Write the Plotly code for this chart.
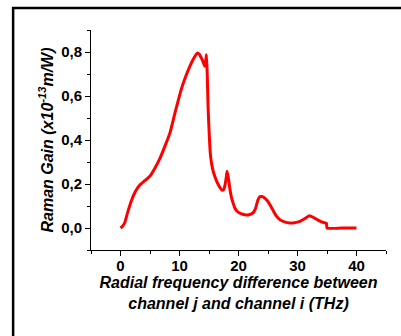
import plotly.graph_objects as go

freq_thz = [0, 0.35, 0.73, 1.2, 1.86, 2.5, 3.27, 4.1, 4.97, 5.8, 6.66, 7.5, 8.36, 9.3, 10.3, 11.0, 11.75, 12.4, 12.99, 13.35, 13.7, 14.0, 14.3, 14.45, 14.57, 14.7, 14.85, 15.05, 15.25, 15.6, 15.98, 16.6, 17.2, 17.5, 17.67, 17.9, 18.07, 18.3, 18.5, 18.8, 19.1, 19.4, 19.77, 20.4, 21.07, 21.8, 22.5, 22.9, 23.3, 23.6, 24.0, 24.5, 25.0, 25.5, 25.9, 26.4, 27.0, 27.8, 28.7, 29.5, 30.4, 31.2, 32.0, 32.9, 33.8, 34.4, 34.9, 35.0, 37.5, 40.0]
raman_gain = [0, 0.008, 0.025, 0.07, 0.125, 0.165, 0.195, 0.215, 0.235, 0.27, 0.315, 0.37, 0.43, 0.53, 0.63, 0.685, 0.735, 0.77, 0.795, 0.79, 0.773, 0.755, 0.735, 0.76, 0.788, 0.7, 0.545, 0.42, 0.33, 0.27, 0.235, 0.195, 0.172, 0.175, 0.19, 0.225, 0.258, 0.225, 0.185, 0.14, 0.112, 0.09, 0.076, 0.065, 0.06, 0.06, 0.07, 0.09, 0.128, 0.142, 0.143, 0.135, 0.12, 0.098, 0.078, 0.055, 0.038, 0.028, 0.023, 0.024, 0.03, 0.042, 0.056, 0.045, 0.031, 0.025, 0.022, 0.0, 0.0, 0.0]

x_tick_vals = [0, 10, 20, 30, 40]
y_tick_vals = [0.0, 0.2, 0.4, 0.6, 0.8]
y_tick_text = ["0,0", "0,2", "0,4", "0,6", "0,8"]

fig = go.Figure()
fig.add_trace(go.Scatter(
    x=freq_thz, y=raman_gain, mode="lines",
    line=dict(color="#ff0000", width=3, shape="spline", smoothing=0.5),
    showlegend=False, hoverinfo="skip"))

tickfont = dict(family="Liberation Sans, Arial, sans-serif", size=15, color="black")
titlefont = dict(family="Liberation Sans, Arial, sans-serif", size=16, color="black")

fig.update_layout(
    width=401, height=336,
    margin=dict(l=91, r=15, t=30, b=86),
    paper_bgcolor="white", plot_bgcolor="white",
    xaxis=dict(range=[-5, 45], tickvals=x_tick_vals,
               ticktext=["<b>%d</b>" % v for v in x_tick_vals],
               showgrid=False, zeroline=False, showline=True, automargin=False,
               linecolor="black", linewidth=1, ticks="outside", ticklen=5,
               tickwidth=1, tickcolor="black", tickfont=tickfont, ticklabelstandoff=-3,
               minor=dict(ticks="outside", ticklen=3, dtick=5, tick0=-5, tickcolor="black", tickwidth=1),
               title=dict(text="<b><i>Radial frequency difference between<br>channel j and channel i (THz)</i></b>",
                          font=titlefont, standoff=2),
               fixedrange=True),
    yaxis=dict(range=[-0.1, 0.9], tickvals=y_tick_vals,
               ticktext=["<b>%s</b>" % t for t in y_tick_text],
               showgrid=False, zeroline=False, showline=True, automargin=False,
               linecolor="black", linewidth=1, ticks="outside", ticklen=5,
               tickwidth=1, tickcolor="black", tickfont=tickfont,
               minor=dict(ticks="outside", ticklen=3, dtick=0.1, tick0=-0.1, tickcolor="black", tickwidth=1),
               title=dict(text="<b><i>Raman Gain (x10<sup>-13</sup>m/W)</i></b>",
                          font=titlefont, standoff=3),
               fixedrange=True),
    shapes=[dict(type="rect", xref="paper", yref="paper",
                 x0=-0.264, x1=1.06, y0=-0.45, y1=1.1,
                 line=dict(color="black", width=2.5), fillcolor="rgba(0,0,0,0)")],
)

fig.write_html("out.html", config={"displayModeBar": False},
               post_script="document.body.style.margin='0';document.body.style.overflow='hidden';")
